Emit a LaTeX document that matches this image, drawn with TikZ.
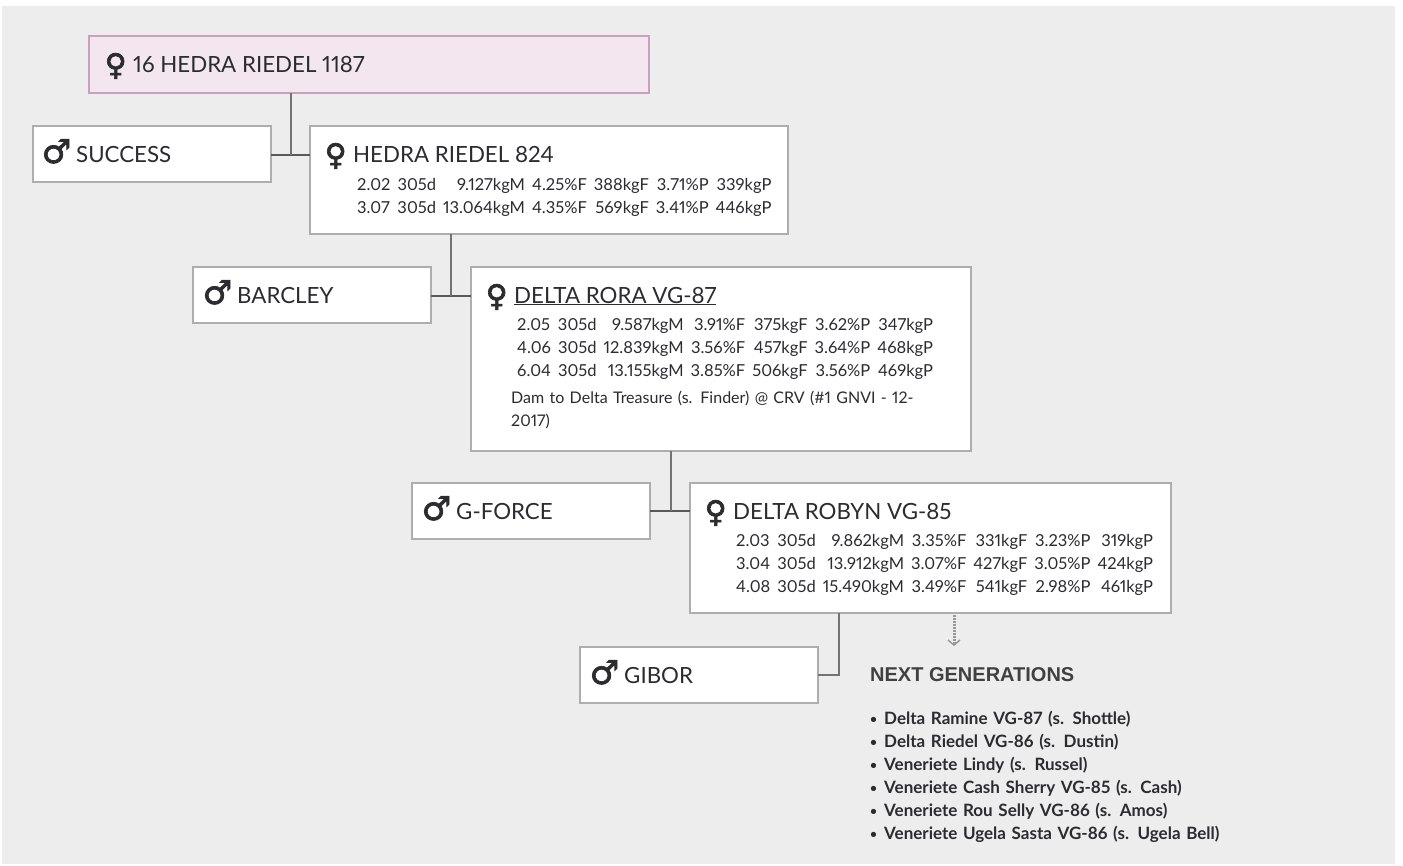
\documentclass[tikz,border=0pt]{standalone}
\usepackage{fontspec}
\usepackage{array}
\usetikzlibrary{arrows.meta}
\setmainfont[Numbers={Proportional,Lining}]{Lato}
\newfontfamily\symfont[FakeBold=2.2]{DejaVu Sans}
\newfontfamily\headfont{Liberation Sans}
\definecolor{panel_color}{HTML}{EDEDED}
\definecolor{border_color}{HTML}{AEAEAE}
\definecolor{root_fill}{HTML}{F3E6EF}
\definecolor{root_border}{HTML}{C9A0C4}
\definecolor{text_color}{HTML}{2B2B30}
\newcommand{\femalesign}{\makebox[27pt][l]{\hspace{-1.5pt}\raisebox{-3pt}{\symfont\fontsize{30}{30}\selectfont ♀}}}
\newcommand{\malesign}{\makebox[33pt][l]{\hspace{-1.5pt}\raisebox{-1pt}{\symfont\fontsize{33}{33}\selectfont ♂}}}
\newcommand{\nextitem}[1]{\makebox[14pt][l]{\raisebox{1pt}{\fontsize{12}{12}\selectfont •}}#1}
\setlength{\tabcolsep}{3.5pt}

\begin{document}
\begin{tikzpicture}[x=1pt, y=-1pt,
        box_style/.style={draw=border_color, line width=2pt, fill=white, inner sep=0pt, outer sep=0pt, anchor=north west},
        sire_style/.style={box_style, minimum width=238pt, minimum height=56pt},
        root_style/.style={box_style, draw=root_border, fill=root_fill, minimum width=560pt, minimum height=57pt},
        name_style/.style={anchor=base west, inner sep=0pt, text=text_color, font=\fontsize{22.3}{26}\selectfont},
        stats_style/.style={anchor=north west, inner sep=0pt, text=text_color, font=\fontsize{16.5}{23}\selectfont},
        head_style/.style={anchor=west, inner sep=0pt, text=black!75, font=\headfont\bfseries\fontsize{20}{24}\selectfont},
        list_style/.style={anchor=north west, inner sep=0pt, text=text_color, text width=380pt, font=\bfseries\fontsize{17}{23}\selectfont},
        line_style/.style={draw=black!55, line width=2.4pt},
        join_style/.style={draw=black!65, line width=2pt},
        next_style/.style={draw=black!40, line width=3pt, dash pattern=on 2pt off 1pt, -{Straight Barb[length=5pt,width=12pt,line width=1.5pt]}}]

        \fill [panel_color] (2,6) rectangle (1395,864);
        \useasboundingbox (0,0) rectangle (1403,865);

        \node [root_style](root) at (89,36) {};
        \node [sire_style](success) at (33,126) {};
        \node [box_style, minimum width=478pt, minimum height=108pt](hedra) at (310,126) {};
        \node [sire_style](barcley) at (193,267) {};
        \node [box_style, minimum width=500pt, minimum height=184pt](rora) at (471,267) {};
        \node [sire_style](gforce) at (412,483) {};
        \node [box_style, minimum width=481pt, minimum height=130pt](robyn) at (690,483) {};
        \node [sire_style](gibor) at (580,647) {};

        \coordinate (j1) at (291,155);
        \coordinate (j2) at (451,296);
        \coordinate (j3) at (671,511);
        \coordinate (j4) at (839,675);
        \coordinate (next_start) at (954,615);
        \coordinate (next_end) at (954,646);

        \draw [join_style] (success.east |- j1) -- (hedra.west |- j1);
        \draw [join_style] (barcley.east |- j2) -- (rora.west |- j2);
        \draw [join_style] (gforce.east |- j3) -- (robyn.west |- j3);
        \draw [line_style] (root.south -| j1) -- (j1);
        \draw [line_style] (hedra.south -| j2) -- (j2);
        \draw [line_style] (rora.south -| j3) -- (j3);
        \draw [line_style] (robyn.south -| j4) -- (j4) -- (gibor.east |- j4);
        \draw [next_style] (next_start) -- (next_end);

        \node [name_style](root_name) at (106,72) {\femalesign 16 HEDRA RIEDEL 1187};
        \node [name_style](success_name) at (43,162) {\malesign SUCCESS};
        \node [name_style](hedra_name) at (326,162) {\femalesign HEDRA RIEDEL 824};
        \node [name_style](barcley_name) at (204,303) {\malesign BARCLEY};
        \node [name_style](rora_name) at (487,303) {\femalesign \underline{DELTA RORA VG-87}};
        \node [name_style](gforce_name) at (423,519) {\malesign G-FORCE};
        \node [name_style](robyn_name) at (706,519) {\femalesign DELTA ROBYN VG-85};
        \node [name_style](gibor_name) at (591,683) {\malesign GIBOR};

        \node [stats_style](hedra_stats) at (357,174) {\begin{tabular}{@{}lrrrrrr@{}}
            2.02 & 305d & 9.127kgM & 4.25\%F & 388kgF & 3.71\%P & 339kgP\\
            3.07 & 305d & 13.064kgM & 4.35\%F & 569kgF & 3.41\%P & 446kgP
        \end{tabular}};
        \node [stats_style](rora_stats) at (517,314) {\begin{tabular}{@{}lrrrrrr@{}}
            2.05 & 305d & 9.587kgM & 3.91\%F & 375kgF & 3.62\%P & 347kgP\\
            4.06 & 305d & 12.839kgM & 3.56\%F & 457kgF & 3.64\%P & 468kgP\\
            6.04 & 305d & 13.155kgM & 3.85\%F & 506kgF & 3.56\%P & 469kgP
        \end{tabular}};
        \node [stats_style, font=\fontsize{16}{23}\selectfont, text width=440pt, align=left](rora_note) at (511,391) {Dam to Delta Treasure (s. Finder) @ CRV (\#1 GNVI - 12-\\2017)};
        \node [stats_style](robyn_stats) at (736,530) {\begin{tabular}{@{}lrrrrrr@{}}
            2.03 & 305d & 9.862kgM & 3.35\%F & 331kgF & 3.23\%P & 319kgP\\
            3.04 & 305d & 13.912kgM & 3.07\%F & 427kgF & 3.05\%P & 424kgP\\
            4.08 & 305d & 15.490kgM & 3.49\%F & 541kgF & 2.98\%P & 461kgP
        \end{tabular}};

        \node [head_style](next_head) at (870,675) {NEXT GENERATIONS};
        \node [list_style, align=left](next_list) at (870,711) {\nextitem{Delta Ramine VG-87 (s. Shottle)}\\
            \nextitem{Delta Riedel VG-86 (s. Dustin)}\\
            \nextitem{Veneriete Lindy (s. Russel)}\\
            \nextitem{Veneriete Cash Sherry VG-85 (s. Cash)}\\
            \nextitem{Veneriete Rou Selly VG-86 (s. Amos)}\\
            \nextitem{Veneriete Ugela Sasta VG-86 (s. Ugela Bell)}};
\end{tikzpicture}
\end{document}
